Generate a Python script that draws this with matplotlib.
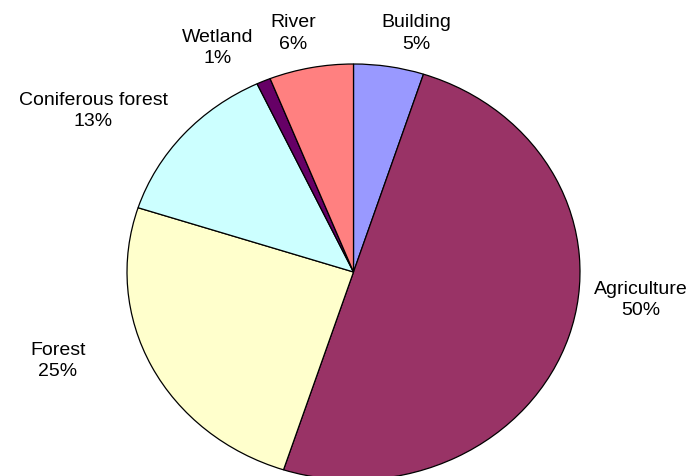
import matplotlib.pyplot as plt

# land use shares (percent)
categories = ["Building", "Agriculture", "Forest", "Coniferous forest", "Wetland", "River"]
shares = [5, 50, 25, 13, 1, 6]
colors = ["#9999FF", "#993366", "#FFFFCC", "#CCFFFF", "#660066", "#FF8080"]

# where each label sits, in pie-radius units
label_pos = [(0.276, 1.147), (1.269, -0.135), (-1.305, -0.428),
             (-1.150, 0.774), (-0.598, 1.077), (-0.265, 1.147)]

plt.rcParams["font.family"] = ["Liberation Sans", "DejaVu Sans"]

fig = plt.figure(figsize=(6.91, 4.76), dpi=100)
ax = fig.add_axes([0, 0, 1, 1])

wedges, _ = ax.pie(shares, colors=colors, startangle=90, counterclock=False,
                   wedgeprops=dict(edgecolor="black", linewidth=0.9))

# the pie is drawn slightly wider than tall
ax.set_aspect("auto")
ax.set_xlim(-353.5 / 226.5, (691 - 353.5) / 226.5)
ax.set_ylim(-204 / 208, (476 - 204) / 208)
ax.axis("off")

for name, val, (x, y) in zip(categories, shares, label_pos):
    ax.text(x, y, f"{name}\n{val}%", ha="center", va="center",
            fontsize=14, linespacing=1.32, color="black")

fig.savefig("out.png", dpi=100)
